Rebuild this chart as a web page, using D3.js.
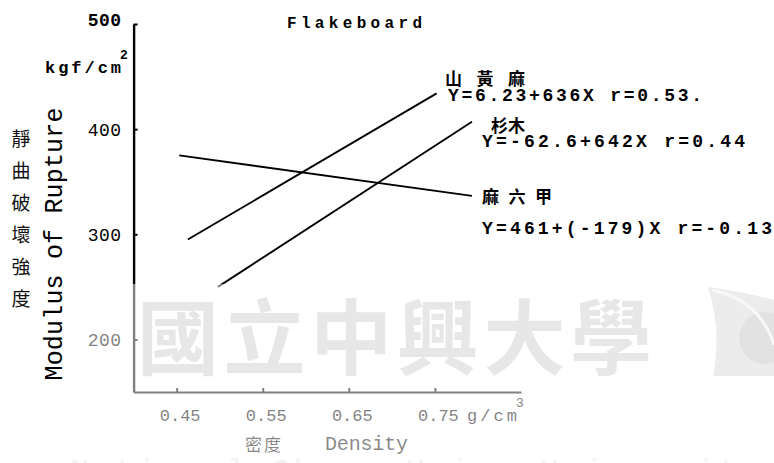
<!DOCTYPE html>
<html>
<head>
<meta charset="utf-8">
<script src="https://cdn.jsdelivr.net/npm/d3@7"></script>
<style>
  html, body { margin: 0; padding: 0; background: #fff; }
  svg { display: block; }
  text { font-family: "Liberation Mono", "DejaVu Sans Mono", monospace; }
  .cjk { font-family: "Noto Sans CJK TC", "Noto Sans CJK SC", sans-serif; }
</style>
</head>
<body>
<svg id="chart" width="774" height="463"></svg>
<script>
// Regression lines of modulus of rupture vs. density, flakeboard
const species   = ["山黃麻", "杉木", "麻六甲"];
const equations = ["Y=6.23+636X  r=0.53.", "Y=-62.6+642X  r=0.44", "Y=461+(-179)X  r=-0.13"];
const densityFrom = [0.463, 0.498, 0.453];
const densityTo   = [0.752, 0.793, 0.793];
const morFrom     = [295, 250, 375];
const morTo       = [434, 407, 336.5];
const xTicks = [0.45, 0.55, 0.65, 0.75];
const yTicks = [200, 300, 400, 500];
const yTitleCJK = ["靜", "曲", "破", "壞", "強", "度"];
const watermark = "國立中興大學";

// label placement for each series (layout only)
const nameLayout = [ {x: 445, y: 77, w: 80}, {x: 491, y: 124, w: 34}, {x: 482, y: 195, w: 70} ];
const eqLayout   = [ {x: 448, y: 96, w: 254}, {x: 482, y: 142, w: 263}, {x: 482, y: 229, w: 290} ];

const svg = d3.select("#chart");

const x = d3.scaleLinear().domain([0.40, 0.85]).range([133.6, 521]);
const y = d3.scaleLinear().domain([150, 500]).range([392, 24]);

// Y axis
const yAxis = svg.append("g")
  .attr("transform", `translate(${x(0.40)},0)`)
  .call(d3.axisLeft(y).tickValues(yTicks).tickSizeInner(-4).tickSizeOuter(0).tickPadding(12)
        .tickFormat(d3.format("d")));
yAxis.select(".domain").attr("stroke", "#000").attr("stroke-width", 2.4);
yAxis.selectAll(".tick line").attr("stroke", "#000").attr("stroke-width", 2);
yAxis.selectAll(".tick text")
  .style("font-family", "Liberation Mono, monospace").style("font-size", "18px")
  .attr("letter-spacing", 0.5).attr("fill", "#000").attr("dy", "0.35em");
yAxis.selectAll(".tick").filter(d => d === 500).select("text").attr("dy", "0.1em").attr("font-weight", "bold");

// X axis
const xAxis = svg.append("g")
  .attr("transform", `translate(0,${y(150)})`)
  .call(d3.axisBottom(x).tickValues(xTicks).tickSizeInner(-4).tickSizeOuter(0).tickPadding(17)
        .tickFormat(d3.format(".2f")));
xAxis.select(".domain").attr("stroke", "#000").attr("stroke-width", 2.2);
xAxis.selectAll(".tick line").attr("stroke", "#000").attr("stroke-width", 2);
xAxis.selectAll(".tick text")
  .style("font-family", "Liberation Mono, monospace").style("font-size", "17px")
  .attr("dx", 3).attr("fill", "#000");

// unit labels
svg.append("text").attr("x", 45).attr("y", 73)
  .attr("font-size", 17).attr("font-weight", "bold").attr("fill", "#000")
  .attr("textLength", 76).attr("lengthAdjust", "spacing").text("kgf/cm");
svg.append("text").attr("x", 120).attr("y", 59).attr("font-size", 13).attr("font-weight", "bold").text("2");

svg.append("text").attr("x", 467).attr("y", 421).attr("font-size", 17).attr("fill", "#000")
  .attr("textLength", 50).attr("lengthAdjust", "spacing").text("g/cm");
svg.append("text").attr("x", 516).attr("y", 407).attr("font-size", 13).attr("fill", "#000").text("3");

// title
svg.append("text").attr("x", 287).attr("y", 28).attr("font-size", 16).attr("font-weight", "bold")
  .attr("textLength", 135).attr("lengthAdjust", "spacing").text("Flakeboard");

// y axis titles
svg.append("text")
  .attr("transform", "translate(62,244) rotate(-90)")
  .attr("text-anchor", "middle").attr("font-size", 25).attr("fill", "#000")
  .attr("textLength", 273).attr("lengthAdjust", "spacing")
  .text("Modulus of Rupture");
svg.selectAll(".ytcjk").data(yTitleCJK).enter().append("text")
  .attr("class", "cjk").attr("x", 21).attr("y", (d, i) => 137 + i * 32)
  .attr("text-anchor", "middle").attr("dominant-baseline", "central")
  .attr("font-size", 19).attr("fill", "#111").text(d => d);

// x axis titles
svg.append("text").attr("class", "cjk").attr("x", 245).attr("y", 451)
  .attr("font-size", 17).attr("fill", "#111")
  .attr("textLength", 36).attr("lengthAdjust", "spacing").text("密度");
svg.append("text").attr("x", 325).attr("y", 450).attr("font-size", 20).attr("fill", "#111")
  .attr("textLength", 83).attr("lengthAdjust", "spacing").text("Density");

// regression lines
const lines = species.map((s, i) => ({
  name: s,
  pts: [[densityFrom[i], morFrom[i]], [densityTo[i], morTo[i]]]
}));
const lineGen = d3.line().x(d => x(d[0])).y(d => y(d[1]));
svg.append("g").selectAll("path").data(lines).enter().append("path")
  .attr("d", d => lineGen(d.pts))
  .attr("fill", "none").attr("stroke", "#000").attr("stroke-width", 1.9);

// series labels
svg.append("g").selectAll("text").data(species).enter().append("text")
  .attr("class", "cjk")
  .attr("x", (d, i) => nameLayout[i].x).attr("y", (d, i) => nameLayout[i].y)
  .attr("dominant-baseline", "central").attr("font-size", 17).attr("font-weight", "bold")
  .attr("textLength", (d, i) => nameLayout[i].w).attr("lengthAdjust", "spacing")
  .text(d => d);
svg.append("g").selectAll("text").data(equations).enter().append("text")
  .attr("x", (d, i) => eqLayout[i].x).attr("y", (d, i) => eqLayout[i].y)
  .attr("dominant-baseline", "central").attr("font-size", 18).attr("font-weight", "bold")
  .attr("textLength", (d, i) => eqLayout[i].w).attr("lengthAdjust", "spacing")
  .text(d => d);

// faded lower band with the university watermark
svg.append("rect").attr("x", 78).attr("y", 284).attr("width", 696).attr("height", 179)
  .attr("fill", "#fff").attr("opacity", 0.5);
svg.append("text").attr("class", "cjk").attr("x", 137).attr("y", 368)
  .attr("font-size", 82).attr("font-weight", 700).attr("fill", "#e7e7e7")
  .attr("textLength", 515).attr("lengthAdjust", "spacing").text(watermark);
svg.append("path")
  .attr("d", "M708,287 Q745,292 774,300 L774,376 L713,376 Q722,330 708,287 Z")
  .attr("fill", "#ececec");
svg.append("circle").attr("cx", 765).attr("cy", 338).attr("r", 26).attr("fill", "#e2e2e2");
svg.append("path").attr("d", "M712,290 Q760,300 774,345")
  .attr("fill", "none").attr("stroke", "#f8f8f8").attr("stroke-width", 3);
svg.append("text").attr("x", 70).attr("y", 481).attr("font-size", 32)
  .attr("fill", "#f2f2f2").attr("font-family", "Liberation Serif, serif")
  .attr("textLength", 690).attr("lengthAdjust", "spacing")
  .text("National Chung Hsing University");
</script>
</body>
</html>
